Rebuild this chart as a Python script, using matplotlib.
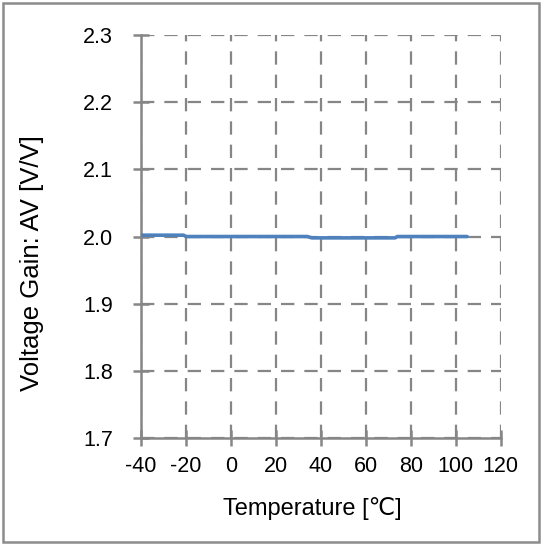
import matplotlib.pyplot as plt
from matplotlib.patches import Rectangle

plt.rcParams['font.family'] = ['Liberation Sans', 'DejaVu Sans']

temperature = [-40, -21, -20, 34, 36, 73, 74, 105]
gain = [2.002, 2.002, 2.000, 2.000, 1.998, 1.998, 2.000, 2.000]
x_ticks = [-40, -20, 0, 20, 40, 60, 80, 100, 120]
y_ticks = [1.7, 1.8, 1.9, 2.0, 2.1, 2.2, 2.3]

fig = plt.figure(figsize=(5.42, 5.45), dpi=100)
ax = fig.add_axes([0.260, 0.196, 0.664, 0.740])

grid_col = '#868686'
ax.plot(temperature, gain, color='#4F81BD', linewidth=2.6, solid_capstyle='round', zorder=3)

ax.set_xlim(-40, 120)
ax.set_ylim(1.7, 2.3)
ax.set_xticks(x_ticks)
ax.set_yticks(y_ticks)
ax.set_xticklabels([str(t) for t in x_ticks])
ax.set_yticklabels([f'{v:.1f}' for v in y_ticks])
ax.grid(True, color=grid_col, linestyle=(0, (6, 4.5)), linewidth=1.6)

for s in ['top', 'right']:
    ax.spines[s].set_visible(False)
for s in ['left', 'bottom']:
    ax.spines[s].set_color(grid_col)
    ax.spines[s].set_linewidth(1.8)

ax.tick_params(axis='both', direction='inout', length=12, width=1.8, color=grid_col,
               labelsize=15.5)
ax.tick_params(axis='y', pad=14)
ax.tick_params(axis='x', pad=7)

ax.set_xlabel('Temperature [℃]', fontsize=17)
ax.set_ylabel('Voltage Gain: AV [V/V]', fontsize=18.5)
ax.xaxis.set_label_coords(0.475, -0.145)
ax.yaxis.set_label_coords(-0.268, 0.434)

fig.patches.append(Rectangle((0.006, 0.006), 0.988, 0.988, transform=fig.transFigure,
                             fill=False, edgecolor='#8c8c8c', linewidth=1.8))

fig.savefig('out.png', dpi=100)
